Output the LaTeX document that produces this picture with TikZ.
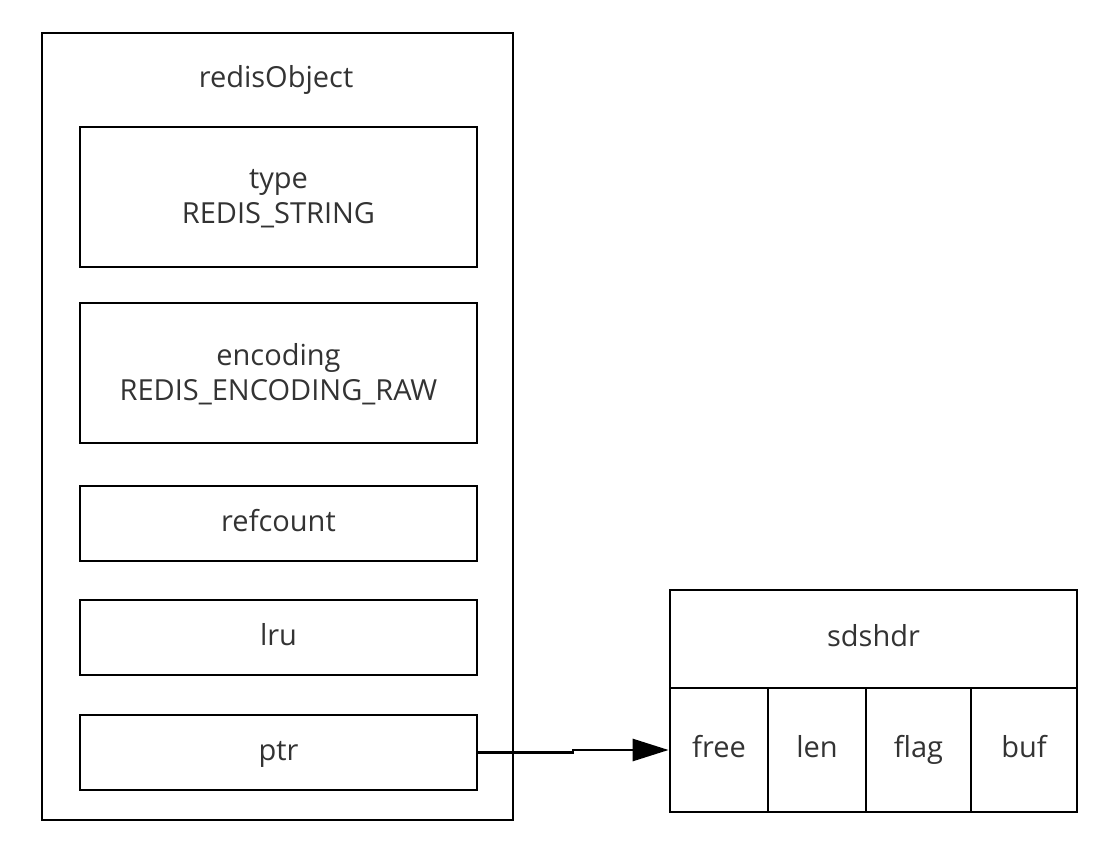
\documentclass[tikz,border=0pt]{standalone}
\usepackage{fontspec}
\setmainfont{Open Sans}
\usetikzlibrary{arrows.meta}
\begin{document}
\begin{tikzpicture}[x=1pt,y=-1pt,
  box/.style={draw=black,line width=2.8pt,rectangle,inner sep=0pt,align=center,
    font=\fontsize{29}{35}\selectfont,text=black!80},
  one/.style={text height=21pt,text depth=6pt},
  two/.style={text depth=2pt},
  lbl/.style={inner sep=0pt,font=\fontsize{29}{35}\selectfont,text=black!80,text height=21pt,text depth=6pt},
  conn/.style={draw=black,line width=2.8pt}]
\useasboundingbox (0,0) rectangle (1116,850);
% outer redisObject
\node[box,minimum width=471pt,minimum height=787pt] (obj) at (277.5,426.5) {};
\node[lbl] (objlbl) at (276,80) {redisObject};
\node[box,two,minimum width=397pt,minimum height=140pt] (type) at (278.5,197) {type\\REDIS\_STRING};
\node[box,two,minimum width=397pt,minimum height=140pt] (enc) at (278.5,373) {encoding\\REDIS\_ENCODING\_RAW};
\node[box,one,minimum width=397pt,minimum height=75pt] (ref) at (278.5,523.5) {refcount};
\node[box,one,minimum width=397pt,minimum height=75pt] (lru) at (278.5,637.5) {lru};
\node[box,one,minimum width=397pt,minimum height=75pt] (ptr) at (278.5,752.5) {ptr};
% sdshdr
\node[box,one,minimum width=407pt,minimum height=98pt] (sds) at (873.5,639) {sdshdr};
\node[box,one,minimum width=98pt,minimum height=124pt] (free) at (719,750) {free};
\node[box,one,minimum width=98pt,minimum height=124pt] (len) at (817,750) {len};
\node[box,one,minimum width=105pt,minimum height=124pt] (flag) at (918.5,750) {flag};
\node[box,one,minimum width=106pt,minimum height=124pt] (buf) at (1024,750) {buf};
% arrow
\coordinate (jog1) at (573,752.5);
\coordinate (jog2) at (573,750);
\draw[conn,-{Triangle[length=36pt,width=22pt]}] (ptr.east) -- (jog1) -- (jog2) -- (free.west);
\end{tikzpicture}
\end{document}
